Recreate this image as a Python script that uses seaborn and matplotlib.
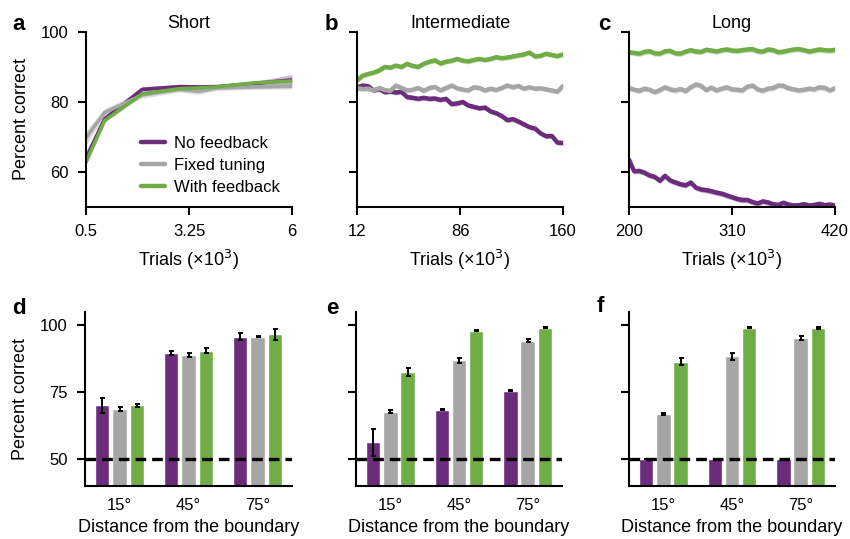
import numpy as np
import pandas as pd
import matplotlib
matplotlib.use('Agg')
import matplotlib.pyplot as plt
import seaborn as sns

sns.set_theme(style='ticks')
plt.rcParams['font.family'] = ['Liberation Sans', 'DejaVu Sans']
plt.rcParams.update({'text.color': 'black', 'axes.labelcolor': 'black',
                     'xtick.color': 'black', 'ytick.color': 'black'})

MODELS = ['No feedback', 'Fixed tuning', 'With feedback']
PALETTE = {'No feedback': '#6b2c7b', 'Fixed tuning': '#a6a6a6', 'With feedback': '#70ad47'}

# ---- a: Short ----
trials_a = [0.5, 1, 2, 3, 3.5, 4, 5, 6]
short_nofb = [64.0, 75.2, 83.6, 84.4, 84.3, 84.4, 85.3, 86.3]
short_fixed = [69.8, 77.0, 82.0, 83.6, 83.0, 84.0, 84.3, 84.5]
short_fb = [62.8, 74.7, 82.3, 83.8, 84.0, 84.3, 85.5, 86.0]
short_nofb_err = [1.0, 0.6, 0.8, 0.5, 0.5, 0.5, 0.6, 1.5]
short_fixed_err = [2.0, 1.2, 0.9, 0.8, 0.8, 0.7, 0.7, 0.8]
short_fb_err = [0.6, 0.5, 0.5, 0.4, 0.4, 0.4, 0.5, 0.6]

# ---- b: Intermediate (x10^3 trials, 38 samples from 12 to 160) ----
trials_b = np.linspace(12, 160, 38)
inter_nofb = [84.2, 84.7, 84.5, 83.3, 83.7, 82.8, 83.0, 82.7, 82.9, 81.4,
              81.2, 80.9, 81.2, 80.9, 81.0, 80.6, 80.9, 79.4, 79.6, 80.0,
              79.0, 78.6, 78.2, 78.4, 77.3, 76.8, 76.0, 74.8, 75.1, 74.4,
              73.6, 72.8, 72.4, 71.0, 70.2, 70.3, 68.4, 68.3]
inter_fixed = [84.0, 83.7, 83.8, 83.3, 84.0, 83.4, 83.2, 84.7, 84.0, 83.3,
               83.5, 84.0, 83.2, 84.0, 84.3, 83.3, 84.0, 84.7, 83.9, 83.5,
               83.3, 84.2, 84.0, 83.3, 83.8, 83.4, 84.0, 84.7, 84.2, 84.6,
               83.8, 84.2, 83.8, 83.9, 83.6, 83.3, 82.9, 84.6]
inter_fb = [86.2, 87.5, 88.0, 88.4, 89.0, 90.0, 89.8, 90.4, 90.0, 90.9,
            90.3, 90.0, 90.9, 91.5, 91.9, 91.0, 91.5, 91.8, 92.3, 91.8,
            91.6, 92.0, 92.3, 92.0, 92.3, 92.8, 92.5, 92.7, 93.0, 93.3,
            93.6, 94.1, 93.0, 93.2, 93.8, 93.4, 93.1, 93.6]
band_b = 0.7

# ---- c: Long (x10^3 trials, 41 samples from 200 to 420) ----
trials_c = np.linspace(200, 420, 41)
long_nofb = [63.5, 60.2, 60.3, 59.8, 59.0, 58.6, 57.5, 58.9, 57.6, 57.0,
             56.5, 56.2, 57.0, 55.5, 55.0, 54.8, 54.5, 54.1, 53.8, 53.3,
             52.8, 52.3, 52.0, 52.0, 51.4, 51.0, 51.6, 51.3, 50.8, 50.6,
             51.2, 50.7, 50.4, 50.5, 50.8, 50.4, 50.6, 50.9, 50.5, 50.7, 50.4]
long_fixed = [84.0, 83.5, 83.2, 83.8, 83.5, 82.8, 83.4, 84.2, 83.6, 83.3,
              83.7, 83.1, 84.2, 85.0, 84.6, 83.4, 84.1, 83.3, 83.8, 84.2,
              83.6, 83.5, 83.3, 84.4, 84.7, 83.6, 83.2, 83.8, 84.0, 84.7,
              84.6, 83.9, 83.6, 83.3, 83.5, 83.8, 83.6, 84.2, 84.0, 83.3, 83.9]
long_fb = [94.2, 94.0, 93.8, 94.3, 94.5, 93.9, 93.8, 94.5, 94.6, 93.9,
           93.8, 94.4, 94.8, 94.4, 94.3, 94.9, 94.7, 94.4, 94.8, 95.0,
           94.7, 94.6, 94.8, 95.0, 95.1, 94.5, 94.4, 95.0, 94.8, 94.2,
           94.4, 94.7, 95.0, 95.1, 94.8, 94.4, 94.7, 95.0, 94.8, 94.7, 94.9]
band_c = 0.8

# ---- d/e/f: accuracy by distance from boundary ----
DISTANCES = ['15°', '45°', '75°']
bar_short_nofb = [70.1, 89.6, 95.8]
bar_short_fixed = [68.7, 88.9, 95.8]
bar_short_fb = [70.1, 90.6, 96.7]
bar_short_nofb_err = [2.8, 0.7, 1.2]
bar_short_fixed_err = [0.8, 0.8, 0.3]
bar_short_fb_err = [0.6, 1.0, 2.0]

bar_inter_nofb = [56.3, 68.5, 75.6]
bar_inter_fixed = [67.8, 86.9, 94.3]
bar_inter_fb = [82.7, 98.0, 99.1]
bar_inter_nofb_err = [5.1, 0.2, 0.1]
bar_inter_fixed_err = [0.6, 1.0, 0.5]
bar_inter_fb_err = [1.5, 0.2, 0.2]

bar_long_nofb = [50.0, 50.0, 50.0]
bar_long_fixed = [66.9, 88.4, 95.4]
bar_long_fb = [86.5, 99.1, 99.1]
bar_long_nofb_err = [0.0, 0.0, 0.0]
bar_long_fixed_err = [0.2, 1.3, 0.7]
bar_long_fb_err = [1.2, 0.2, 0.3]

TICK_FS = 12
LABEL_FS = 13


def style_axis(ax):
    sns.despine(ax=ax)
    for s in ['left', 'bottom']:
        ax.spines[s].set_linewidth(1.5)
        ax.spines[s].set_color('black')
    ax.tick_params(axis='both', length=5.5, width=1.5, color='black',
                   labelcolor='black', labelsize=TICK_FS, pad=7)


def line_panel(ax, trials, series, errs, lw, legend=False):
    rows = []
    for m, vals in zip(MODELS, series):
        for t, v in zip(trials, vals):
            rows.append({'trials': t, 'pct': v, 'model': m})
    df = pd.DataFrame(rows)
    for m, vals, e in zip(MODELS, series, errs):
        v = np.asarray(vals)
        ax.fill_between(trials, v - e, v + e, color=PALETTE[m], alpha=0.35, lw=0)
    sns.lineplot(data=df, x='trials', y='pct', hue='model', hue_order=MODELS,
                 palette=PALETTE, lw=lw, errorbar=None, legend=legend, ax=ax)
    ax.set_ylim(50, 100)
    ax.set_yticks([60, 80, 100])
    ax.set_xlabel('Trials (×10$^3$)', fontsize=LABEL_FS, labelpad=6)
    ax.set_ylabel('')
    style_axis(ax)


def bar_panel(ax, means, errs):
    rows = []
    for m, vals in zip(MODELS, means):
        for d, v in zip(DISTANCES, vals):
            rows.append({'distance': d, 'pct': v, 'model': m})
    df = pd.DataFrame(rows)
    sns.barplot(data=df, x='distance', y='pct', hue='model', hue_order=MODELS,
                palette=PALETTE, saturation=1, errorbar=None, width=0.755,
                gap=0.17, legend=False, ax=ax)
    for cont, vals, e in zip(ax.containers, means, errs):
        xs = [p.get_x() + p.get_width() / 2 for p in cont]
        ax.errorbar(xs, vals, yerr=e, fmt='none', ecolor='black',
                    elinewidth=1.4, capsize=1.8, capthick=1.4, zorder=3)
    ax.axhline(50, color='black', lw=2.4, ls=(0, (3.2, 1.8)), zorder=4)
    ax.set_ylim(40, 105)
    ax.set_xlim(-0.5, 2.5)
    ax.set_yticks([50, 75, 100])
    ax.set_xlabel('Distance from the boundary', fontsize=LABEL_FS, labelpad=4)
    ax.set_ylabel('')
    style_axis(ax)
    ax.tick_params(axis='x', length=0, pad=9)


fig = plt.figure(figsize=(8.5, 5.39), dpi=100)
W = 206 / 850
ax_a = fig.add_axes([86 / 850, 1 - 207 / 539, W, 175 / 539])
ax_b = fig.add_axes([357 / 850, 1 - 207 / 539, W, 175 / 539])
ax_c = fig.add_axes([629 / 850, 1 - 207 / 539, W, 175 / 539])
ax_d = fig.add_axes([85 / 850, 1 - 486 / 539, 207 / 850, 174 / 539])
ax_e = fig.add_axes([356 / 850, 1 - 486 / 539, W, 174 / 539])
ax_f = fig.add_axes([629 / 850, 1 - 486 / 539, W, 174 / 539])

line_panel(ax_a, trials_a, [short_nofb, short_fixed, short_fb],
           [np.array(short_nofb_err), np.array(short_fixed_err), np.array(short_fb_err)],
           lw=2.6, legend=True)
ax_a.set_xlim(0.5, 6)
ax_a.set_xticks([0.5, 3.25, 6])
ax_a.set_xticklabels(['0.5', '3.25', '6'])
ax_a.set_ylabel('Percent correct', fontsize=LABEL_FS, labelpad=8)
ax_a.set_title('Short', fontsize=LABEL_FS, pad=3)
sns.move_legend(ax_a, 'upper left', bbox_to_anchor=(0.235, 0.445), frameon=False,
                title=None, fontsize=TICK_FS, handlelength=1.45, handletextpad=0.55,
                labelspacing=0.42, borderaxespad=0)
for h in ax_a.get_legend().get_lines():
    h.set_linewidth(3.2)

line_panel(ax_b, trials_b, [inter_nofb, inter_fixed, inter_fb],
           [band_b, band_b, band_b], lw=3.2)
ax_b.set_xlim(12, 160)
ax_b.set_xticks([12, 86, 160])
ax_b.set_yticklabels([])
ax_b.set_title('Intermediate', fontsize=LABEL_FS, pad=3)

line_panel(ax_c, trials_c, [long_nofb, long_fixed, long_fb],
           [band_c, band_c, band_c], lw=3.2)
ax_c.set_xlim(200, 420)
ax_c.set_xticks([200, 310, 420])
ax_c.set_yticklabels([])
ax_c.set_title('Long', fontsize=LABEL_FS, pad=3)

bar_panel(ax_d, [bar_short_nofb, bar_short_fixed, bar_short_fb],
          [bar_short_nofb_err, bar_short_fixed_err, bar_short_fb_err])
ax_d.set_ylabel('Percent correct', fontsize=LABEL_FS, labelpad=8)

bar_panel(ax_e, [bar_inter_nofb, bar_inter_fixed, bar_inter_fb],
          [bar_inter_nofb_err, bar_inter_fixed_err, bar_inter_fb_err])
ax_e.set_yticklabels([])

bar_panel(ax_f, [bar_long_nofb, bar_long_fixed, bar_long_fb],
          [bar_long_nofb_err, bar_long_fixed_err, bar_long_fb_err])
ax_f.set_yticklabels([])

for letter, x, y in [('a', 12, 24), ('b', 325, 24), ('c', 598, 24),
                     ('d', 12, 308), ('e', 326, 308), ('f', 597, 306)]:
    fig.text(x / 850, 1 - y / 539, letter, fontsize=16, fontweight='bold',
             ha='left', va='center')

fig.savefig('out.png', dpi=100)
plt.close(fig)
